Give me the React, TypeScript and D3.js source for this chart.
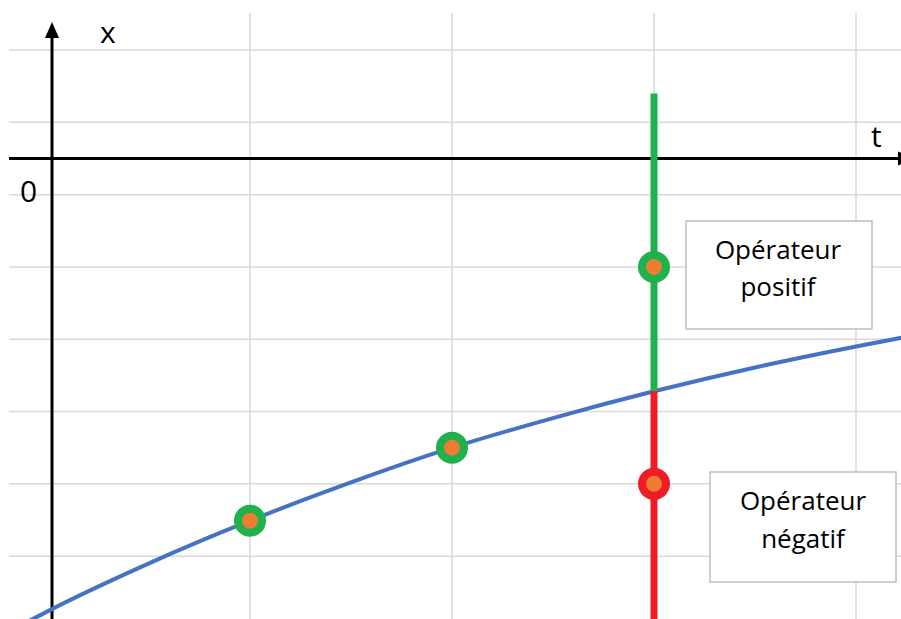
import React from "react";
import * as d3 from "d3";

const gridT = [1, 2, 3, 4];
const gridX = [1.5, 0.5, -0.5, -1.5, -2.5, -3.5, -4.5, -5.5];
const curveT = [-0.15, 0, 0.5, 1, 1.5, 2, 2.5, 3, 3.5, 4, 4.3];
const curveX = [-6.48, -6.26, -5.6, -5.01, -4.48, -4.0, -3.59, -3.22, -2.89, -2.6, -2.44];
const pointT = [1, 2];
const pointX = [-5.01, -4.0];
const operatorT = 3;
const operatorTop = 0.9;
const operatorCross = -3.22;
const operatorBottom = -6.6;
const positiveX = -1.5;
const negativeX = -4.5;
const labels = { x: "x", t: "t", origin: "0" };
const positiveLines = ["Opérateur", "positif"];
const negativeLines = ["Opérateur", "négatif"];

const W = 901;
const H = 619;

export default function App() {
  const tS = d3.scaleLinear().domain([0, 1]).range([48, 250]);
  const xS = d3.scaleLinear().domain([0, 1]).range([158.5, 86.2]);
  const line = d3
    .line<number>()
    .x((_, i) => tS(curveT[i]))
    .y((d) => xS(d))
    .curve(d3.curveMonotoneX);

  const axisX = 52;
  const axisY = xS(0);
  const green = "#1fb14c";
  const red = "#ee1d25";
  const orange = "#ed7d31";
  const blue = "#4472c4";
  const font = "'Open Sans', sans-serif";

  const ox = tS(operatorT);

  return (
    <svg
      width={W}
      height={H}
      style={{ position: "absolute", left: 0, top: 0, background: "#fff" }}
    >
      <rect x={0} y={0} width={W} height={H} fill="#fff" />
      {gridT.map((t) => (
        <line key={"gv" + t} x1={tS(t)} x2={tS(t)} y1={13} y2={H} stroke="#d9d9d9" strokeWidth={1.5} />
      ))}
      {gridX.map((v) => (
        <line key={"gh" + v} x1={9} x2={W} y1={xS(v)} y2={xS(v)} stroke="#d9d9d9" strokeWidth={1.5} />
      ))}
      {/* axes */}
      <line x1={axisX} x2={axisX} y1={H} y2={34} stroke="#000" strokeWidth={3} />
      <path d={`M${axisX},22 L${axisX - 7},38 L${axisX + 7},38 Z`} fill="#000" />
      <line x1={9} x2={905} y1={axisY} y2={axisY} stroke="#000" strokeWidth={3} />
      <path d={`M${914},${axisY} L${898},${axisY - 7} L${898},${axisY + 7} Z`} fill="#000" />
      <text x={100} y={43} fontFamily={font} fontSize={30} fill="#000">{labels.x}</text>
      <text x={871} y={147} fontFamily={font} fontSize={30} fill="#000">{labels.t}</text>
      <text x={20} y={202} fontFamily={font} fontSize={30} fill="#000">{labels.origin}</text>

      {/* curve */}
      <path d={line(curveX) || ""} fill="none" stroke={blue} strokeWidth={4} />

      {/* operator line */}
      <line x1={ox} x2={ox} y1={xS(operatorTop)} y2={xS(operatorCross)} stroke={green} strokeWidth={7} />
      <line x1={ox} x2={ox} y1={xS(operatorCross)} y2={xS(operatorBottom)} stroke={red} strokeWidth={7} />

      {/* points */}
      {pointT.map((t, i) => (
        <circle key={"p" + i} cx={tS(t)} cy={xS(pointX[i])} r={12} fill={orange} stroke={green} strokeWidth={8} />
      ))}
      <circle cx={ox} cy={xS(positiveX)} r={12} fill={orange} stroke={green} strokeWidth={8} />
      <circle cx={ox} cy={xS(negativeX)} r={12} fill={orange} stroke={red} strokeWidth={8} />

      {/* boxes */}
      <rect x={686} y={221} width={186} height={108} fill="#fff" stroke="#bfbfbf" strokeWidth={1.5} />
      {positiveLines.map((s, i) => (
        <text key={"pl" + i} x={778} y={259 + i * 37} textAnchor="middle" fontFamily={font} fontSize={26} fill="#000">{s}</text>
      ))}
      <rect x={710} y={472} width={186} height={110} fill="#fff" stroke="#bfbfbf" strokeWidth={1.5} />
      {negativeLines.map((s, i) => (
        <text key={"nl" + i} x={803} y={510 + i * 38} textAnchor="middle" fontFamily={font} fontSize={26} fill="#000">{s}</text>
      ))}
    </svg>
  );
}
